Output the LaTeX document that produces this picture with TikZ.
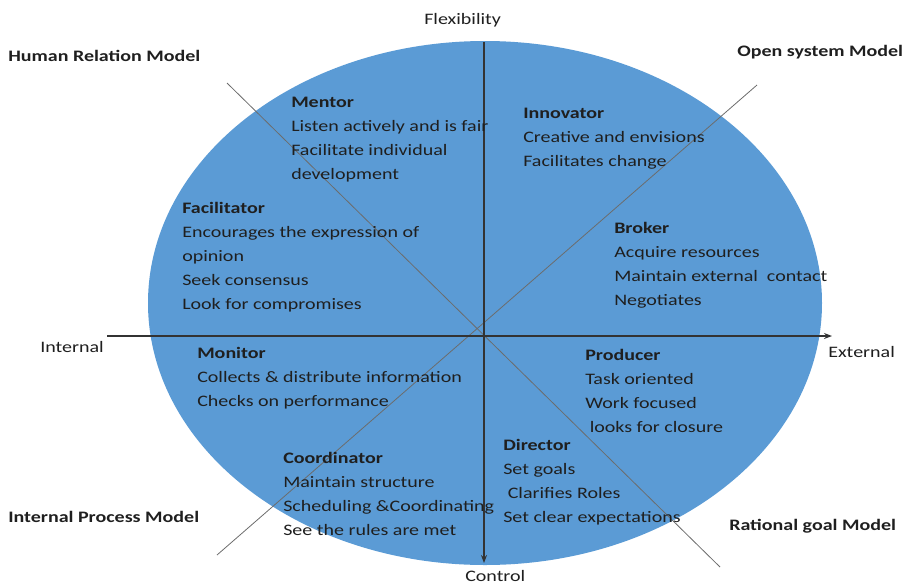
\documentclass[tikz,border=0pt]{standalone}
\usepackage{fontspec}
\setmainfont{Carlito}[FakeStretch=1.25]
\usetikzlibrary{arrows.meta}
\definecolor{quadblue}{HTML}{5B9BD5}
\definecolor{inkgray}{HTML}{1F1F1F}

\begin{document}
\begin{tikzpicture}[
	x=0.75pt, y=-0.75pt,
	>={Stealth[length=6pt, width=4.5pt]},
	% --- Style Definitions ---
	axis/.style={->, line width=0.9pt, black!80},
	diagonal/.style={line width=0.6pt, gray!85!black},
	% multi-line: base anchor sits on the last line
	role/.style={anchor=base west, align=left, inner sep=0pt, text=inkgray,
		font=\fontsize{12}{18}\selectfont},
	model/.style={anchor=base west, inner sep=0pt, text=inkgray,
		font=\fontsize{12}{14}\selectfont\bfseries},
	direction/.style={anchor=base west, inner sep=0pt, text=inkgray,
		font=\fontsize{12}{14}\selectfont},
	]
	
	\useasboundingbox (0,0) rectangle (908,583);
	
	% --- Ellipse ---
	\fill[quadblue] (485,303) ellipse [x radius=337, y radius=262];
	
	% --- Axis End Points ---
	\coordinate (top)    at (484,42);
	\coordinate (bottom) at (484,563);
	\coordinate (left)   at (107,336);
	\coordinate (right)  at (832,336);
	\coordinate (nw) at (227,83);
	\coordinate (se) at (720,567);
	\coordinate (ne) at (757,85);
	\coordinate (sw) at (217,555);
	
	% --- Diagonals & Axes ---
	\draw[diagonal] (nw) -- (se);
	\draw[diagonal] (ne) -- (sw);
	\draw[axis] (top) -- (bottom);
	\draw[axis] (left) -- (right);
	
	% --- Axis Labels ---
	\node[direction] (flex)  at (424,24)  {Flexibility};
	\node[direction] (ctrl)  at (465,581) {Control};
	\node[direction] (intl)  at (40,352)  {Internal};
	\node[direction] (extl)  at (828,357) {External};
	
	% --- Model Labels ---
	\node[model] (hrm) at (8,61)    {Human Relation Model};
	\node[model] (osm) at (737,56)  {Open system Model};
	\node[model] (ipm) at (8,522)   {Internal Process Model};
	\node[model] (rgm) at (729,530) {Rational goal Model};
	
	% --- Roles ---
	\node[role] (mentor) at (291,179)
		{\textbf{Mentor}\\Listen actively and is fair\\Facilitate individual\\development};
	\node[role] (innovator) at (523,166)
		{\textbf{Innovator}\\Creative and envisions\\Facilitates change};
	\node[role] (facilitator) at (182,309)
		{\textbf{Facilitator}\\Encourages the expression of\\opinion\\Seek consensus\\Look for compromises};
	\node[role] (broker) at (614,305)
		{\textbf{Broker}\\Acquire resources\\Maintain external~ contact\\Negotiates};
	\node[role] (monitor) at (197,406)
		{\textbf{Monitor}\\Collects \& distribute information\\Checks on performance};
	\node[role] (producer) at (585,432)
		{\textbf{Producer}\\Task oriented\\Work focused\\\ looks for closure};
	\node[role] (director) at (503,522)
		{\textbf{Director}\\Set goals\\\ Clarifies Roles\\Set clear expectations};
	\node[role] (coordinator) at (283,535)
		{\textbf{Coordinator}\\Maintain structure\\Scheduling \&Coordinating\\See the rules are met};
	
\end{tikzpicture}
\end{document}
